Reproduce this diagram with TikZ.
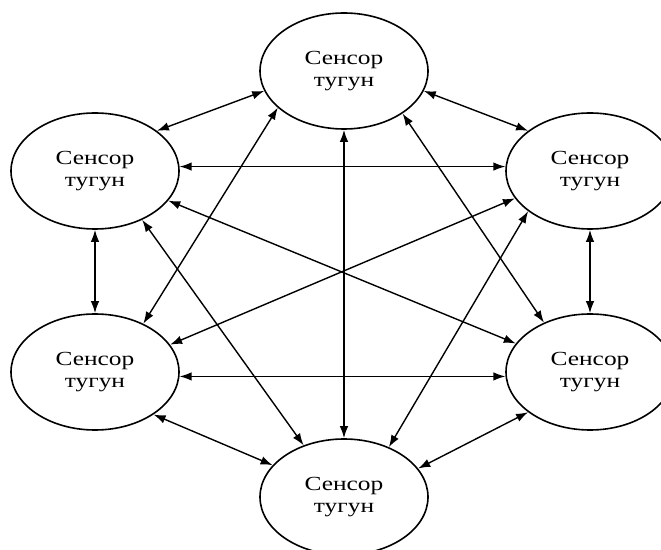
\documentclass[tikz,border=0pt]{standalone}
\usepackage{fontspec}
\setmainfont[FakeStretch=1.27]{Liberation Serif}
\usetikzlibrary{shapes.geometric,arrows.meta}
\tikzset{
  sensor/.style={ellipse, draw, line width=1.6pt, minimum width=168pt, minimum height=116pt,
    inner sep=0pt, align=center, font=\fontsize{20pt}{22pt}\selectfont},
  link/.style={line width=1.4pt, {Latex[length=12pt,width=8.5pt]}-{Latex[length=12pt,width=8.5pt]}}
}
\begin{document}
\begin{tikzpicture}[x=1pt,y=1pt]
\useasboundingbox (0,0) rectangle (661,549);
% six sensor nodes on a hexagon
\node[sensor] (T)  at (344,478) {Сенсор\\тугун};
\node[sensor] (LT) at (95,378)  {Сенсор\\тугун};
\node[sensor] (RT) at (590,378) {Сенсор\\тугун};
\node[sensor] (LB) at (95,177)  {Сенсор\\тугун};
\node[sensor] (RB) at (590,177) {Сенсор\\тугун};
\node[sensor] (B)  at (344,52)  {Сенсор\\тугун};
% every pair is linked both ways
\draw[link] (T.194) -- (LT.33);
\draw[link] (T.346) -- (RT.147);
\draw[link] (T.209) -- (LB.45);
\draw[link] (T.324) -- (RB.133);
\draw[link] (T.270) -- (B.90);
\draw[link] (LT.3) -- (RT.177);
\draw[link] (LT.270) -- (LB.90);
\draw[link] (LT.338) -- (RB.159);
\draw[link] (LT.314) -- (B.128);
\draw[link] (RT.200) -- (LB.20);
\draw[link] (RT.270) -- (RB.90);
\draw[link] (RT.213) -- (B.48);
\draw[link] (LB.357) -- (RB.183);
\draw[link] (LB.324) -- (B.156);
\draw[link] (RB.213) -- (B.21);
\end{tikzpicture}
\end{document}
